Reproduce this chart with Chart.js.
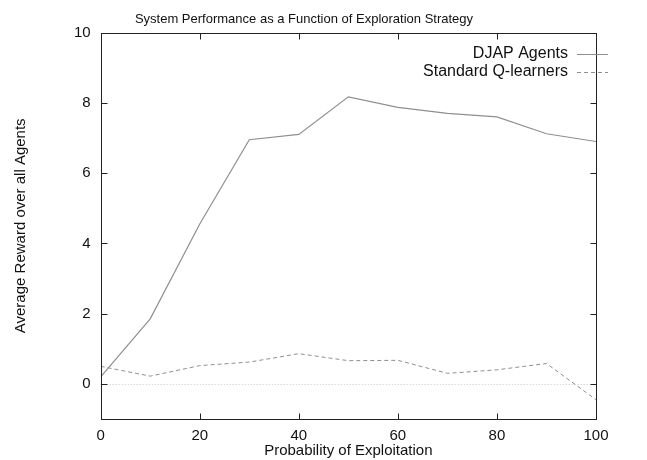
<!DOCTYPE html>
<html>
<head>
<meta charset="utf-8">
<script src="https://cdn.jsdelivr.net/npm/chart.js@4"></script>
<style>
html,body{margin:0;padding:0;background:#fff;}
#wrap{width:647px;height:460px;}
</style>
</head>
<body>
<div id="wrap"><canvas id="c" width="647" height="460"></canvas></div>
<script>
const probabilities = [0, 10, 20, 30, 40, 50, 60, 70, 80, 90, 100];
const djapAgents = [0.2, 1.85, 4.55, 6.95, 7.1, 8.17, 7.87, 7.7, 7.6, 7.12, 6.9];
const qLearners = [0.5, 0.22, 0.52, 0.62, 0.86, 0.66, 0.67, 0.3, 0.4, 0.58, -0.45];
const xTicks = [0, 20, 40, 60, 80, 100];
const yTicks = [0, 2, 4, 6, 8, 10];

const FONT = "'Liberation Sans', Arial, Helvetica, sans-serif";

const framePlugin = {
  id: 'frame',
  beforeDatasetsDraw(chart) {
    const {ctx, chartArea: a, scales: {y}} = chart;
    ctx.save();
    const y0 = Math.round(y.getPixelForValue(0)) + 0.5;
    ctx.strokeStyle = '#c8c8c8';
    ctx.lineWidth = 1;
    ctx.setLineDash([1, 2]);
    ctx.beginPath();
    ctx.moveTo(a.left, y0); ctx.lineTo(a.right, y0);
    ctx.stroke();
    ctx.restore();
  },
  afterDatasetsDraw(chart) {
    const {ctx, chartArea: a, scales: {x, y}} = chart;
    ctx.save();
    ctx.strokeStyle = '#222';
    ctx.lineWidth = 1;
    ctx.setLineDash([]);
    const L0 = Math.round(a.left) + 0.5, T0 = Math.round(a.top) + 0.5;
    const R0 = Math.round(a.right) + 0.5, B0 = Math.round(a.bottom) + 0.5;
    ctx.strokeRect(L0, T0, R0 - L0, B0 - T0);
    const L = 6;
    ctx.beginPath();
    xTicks.forEach(v => {
      const px = Math.round(x.getPixelForValue(v)) + 0.5;
      ctx.moveTo(px, B0); ctx.lineTo(px, B0 - L);
      ctx.moveTo(px, T0); ctx.lineTo(px, T0 + L);
    });
    yTicks.forEach(v => {
      const py = Math.round(y.getPixelForValue(v)) + 0.5;
      ctx.moveTo(L0, py); ctx.lineTo(L0 + L, py);
      ctx.moveTo(R0, py); ctx.lineTo(R0 - L, py);
    });
    ctx.stroke();
    ctx.font = '16px ' + FONT;
    ctx.fillStyle = '#111';
    ctx.textAlign = 'right';
    ctx.textBaseline = 'middle';
    const textRight = a.right - 28;
    const rows = [a.top + 21, a.top + 39];
    chart.data.datasets.forEach((ds, i) => {
      const yy = rows[i];
      ctx.fillText(ds.label, textRight, yy);
      ctx.strokeStyle = ds.borderColor;
      ctx.lineWidth = 1;
      ctx.setLineDash(ds.borderDash || []);
      ctx.beginPath();
      ctx.moveTo(textRight + 9, Math.round(yy) + 0.5); ctx.lineTo(textRight + 40, Math.round(yy) + 0.5);
      ctx.stroke();
    });
    ctx.restore();
  }
};

new Chart(document.getElementById('c'), {
  type: 'line',
  data: {
    datasets: [
      {
        label: 'DJAP Agents',
        data: probabilities.map((p, i) => ({x: p, y: djapAgents[i]})),
        borderColor: '#8f8f8f',
        borderWidth: 1.2,
        pointRadius: 0,
        fill: false,
        tension: 0
      },
      {
        label: 'Standard Q-learners',
        data: probabilities.map((p, i) => ({x: p, y: qLearners[i]})),
        borderColor: '#8f8f8f',
        borderWidth: 1,
        borderDash: [4, 3],
        pointRadius: 0,
        fill: false,
        tension: 0
      }
    ]
  },
  options: {
    responsive: false,
    animation: false,
    devicePixelRatio: 1,
    layout: {padding: {left: 12, right: 51, top: 0, bottom: 0}},
    plugins: {
      legend: {display: false},
      tooltip: {enabled: false},
      title: {
        display: true,
        text: 'System Performance as a Function of Exploration Strategy',
        color: '#111',
        font: {family: FONT, size: 13, weight: 'normal'},
        padding: {top: 12, bottom: 5}
      }
    },
    scales: {
      x: {
        type: 'linear',
        min: 0, max: 100,
        afterBuildTicks: s => { s.ticks = xTicks.map(v => ({value: v})); },
        grid: {display: false, drawTicks: false},
        border: {display: false},
        ticks: {color: '#111', font: {family: FONT, size: 15, lineHeight: 1}, padding: 9.5, maxRotation: 0},
        title: {display: true, text: 'Probability of Exploitation', color: '#111',
                font: {family: FONT, size: 15, lineHeight: 1}, padding: {top: -9.5, bottom: 1.5}}
      },
      y: {
        type: 'linear',
        min: -1, max: 10,
        afterBuildTicks: s => { s.ticks = yTicks.map(v => ({value: v})); },
        grid: {display: false, drawTicks: false},
        border: {display: false},
        ticks: {color: '#111', font: {family: FONT, size: 15}, padding: 10},
        title: {display: true, text: 'Average Reward over all Agents', color: '#111',
                font: {family: FONT, size: 15}, padding: {top: 0, bottom: 34}}
      }
    }
  },
  plugins: [framePlugin]
});
</script>
</body>
</html>
